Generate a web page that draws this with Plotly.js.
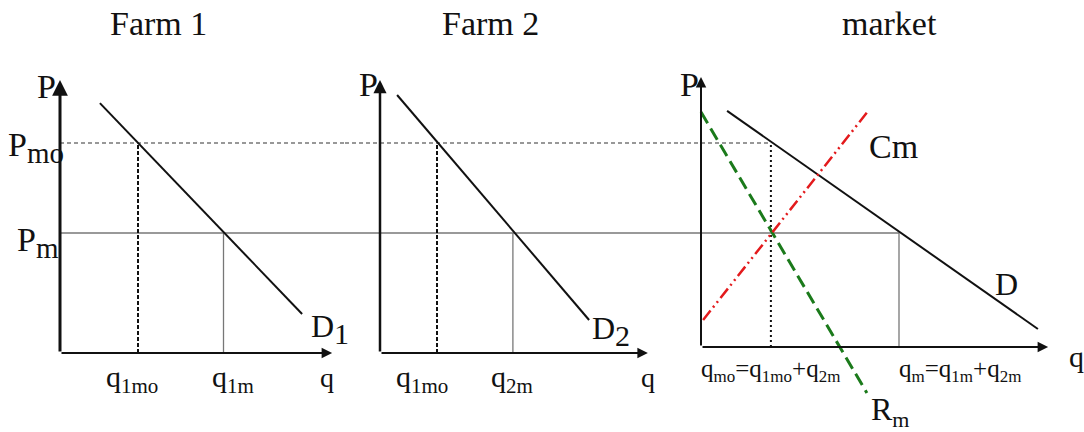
<!DOCTYPE html>
<html>
<head>
<meta charset="utf-8">
<script src="https://cdn.plot.ly/plotly-3.0.1.min.js"></script>
<style>html,body{margin:0;padding:0;background:#fff}</style>
</head>
<body>
<div id="chart" style="width:1084px;height:432px"></div>
<script>
// Two farms + market: monopoly price Pmo vs competitive price Pm
const FONT = 'Liberation Serif, Times New Roman, serif';

const PANELS = ['Farm 1', 'Farm 2', 'market'];
const P_LEVELS = [7, 4];                 // Pmo, Pm
const BASE = [0, 0, 0.2];                // where each q axis sits
const AXIS_TOP = [9.1, 9.1, 9.2];
const AXIS_RIGHT = [9.07, 8.93, 11.57];

// demand curves (end points)
const d1Q = [1.33, 8.07], d1P = [8.33, 1.3];
const d2Q = [0.57, 6.97], d2P = [8.6, 1.1];
const dQ = [0.87, 11.23], dP = [8.07, 0.8];
// marginal revenue / marginal cost on the market
const rmQ = [0, 5.53], rmP = [8.03, -1.33];
const cmQ = [0.07, 5.6], cmP = [1.1, 8.1];
// quantities at Pmo and at Pm, per panel
const Q_MO = [2.6, 1.9, 2.33];
const Q_M = [5.45, 4.43, 6.6];

const XR = [[-2, 9.5], [-1.1667, 10], [-0.7, 12.7667]];
const DOM = [[0, 345 / 1084], [345 / 1084, 680 / 1084], [680 / 1084, 1]];
const XA = ['x', 'x2', 'x3'];

const sub = (s, px) => '<sub><span style="font-size:' + px + 'px">' + s + '</span></sub>';

const traces = [];
const line = (xa, x, y, color, width, dash) => traces.push({
  x, y, xaxis: xa, yaxis: 'y', mode: 'lines', type: 'scatter', hoverinfo: 'skip',
  line: { color, width, dash: dash || 'solid' }
});

// horizontal price lines running across the three panels
for (let i = 0; i < 3; i++) {
  const endMo = i < 2 ? XR[i][1] : Q_MO[2];
  const endM = i < 2 ? XR[i][1] : Q_M[2];
  const start = i === 0 ? 0 : XR[i][0];
  line(XA[i], [start, endMo], [P_LEVELS[0], P_LEVELS[0]], '#333', 1.2, '4px,3px');
  line(XA[i], [start, endM], [P_LEVELS[1], P_LEVELS[1]], '#777', 1.6);
}
// vertical drops
for (let i = 0; i < 3; i++) {
  line(XA[i], [Q_MO[i], Q_MO[i]], [BASE[i], P_LEVELS[0]], '#111', 2, i < 2 ? '4px,2px' : '2px,3px');
  line(XA[i], [Q_M[i], Q_M[i]], [BASE[i], P_LEVELS[1]], '#777', 1.3);
}
line('x', d1Q, d1P, '#111', 2);
line('x2', d2Q, d2P, '#111', 2);
line('x3', dQ, dP, '#111', 2);
line('x3', rmQ, rmP, '#1b7a1b', 3, '13px,6px');
line('x3', cmQ, cmP, '#e31a1c', 2.5, '12px,4px,2px,4px,2px,4px');

const ann = [];
const txt = (xa, x, y, text, size, extra) => ann.push(Object.assign({
  xref: xa, yref: 'y', x, y, text, showarrow: false,
  font: { family: FONT, size, color: '#111' }
}, extra || {}));
const arrow = (xa, x, y, ax, ay, w) => ann.push({
  xref: xa, yref: 'y', axref: xa, ayref: 'y', x, y, ax, ay, text: '',
  showarrow: true, arrowhead: 2, arrowsize: 1.05, arrowwidth: w, arrowcolor: '#111', standoff: 0
});

const YW = [3, 2.5, 2];
for (let i = 0; i < 3; i++) {
  arrow(XA[i], 0, AXIS_TOP[i], 0, BASE[i], YW[i]);
  arrow(XA[i], AXIS_RIGHT[i], BASE[i], 0, BASE[i], 2);
}

// titles
txt('x', 3.27, 11.0, PANELS[0], 34);
txt('x2', 3.67, 11.0, PANELS[1], 34);
txt('x3', 6.27, 11.0, PANELS[2], 34);

// panel 1
txt('x', -0.45, 8.9, 'P', 34);
txt('x', 0.2, P_LEVELS[0] - 0.15, 'P' + sub('mo', 29), 34, { xanchor: 'right' });
txt('x', 0.02, P_LEVELS[1] - 0.3, 'P' + sub('m', 29), 34, { xanchor: 'right' });
txt('x', 9.0, 0.8, 'D' + sub('1', 30), 32);
txt('x', 2.4, -0.85, 'q' + sub('1mo', 21), 30);
txt('x', 5.77, -0.85, 'q' + sub('1m', 21), 30);
txt('x', 8.9, -0.8, 'q', 28);

// panel 2
txt('x2', -0.4, 8.95, 'P', 34);
txt('x2', 7.7, 0.75, 'D' + sub('2', 30), 32);
txt('x2', 1.4, -0.85, 'q' + sub('1mo', 21), 30);
txt('x2', 4.4, -0.85, 'q' + sub('2m', 21), 30);
txt('x2', 8.93, -0.8, 'q', 28);

// market
txt('x3', -0.4, 8.95, 'P', 34);
txt('x3', 6.4, 6.87, 'Cm', 34);
txt('x3', 10.17, 2.3, 'D', 32);
txt('x3', 6.3, -1.95, 'R' + sub('m', 22), 32);
txt('x3', 12.5, -0.1, 'q', 30);
txt('x3', 2.33, -0.57, 'q' + sub('mo', 17) + '=q' + sub('1mo', 17) + '+q' + sub('2m', 17), 25);
txt('x3', 8.63, -0.57, 'q' + sub('m', 17) + '=q' + sub('1m', 17) + '+q' + sub('2m', 17), 25);

const hidden = { showgrid: false, zeroline: false, showticklabels: false, showline: false, ticks: '', fixedrange: true };
const layout = {
  width: 1084, height: 432, margin: { l: 0, r: 0, t: 0, b: 0 },
  paper_bgcolor: '#fff', plot_bgcolor: '#fff', showlegend: false,
  yaxis: Object.assign({ range: [-79 / 30, 353 / 30], domain: [0, 1] }, hidden),
  annotations: ann
};
XA.forEach((a, i) => {
  const key = i === 0 ? 'xaxis' : 'xaxis' + (i + 1);
  layout[key] = Object.assign({ range: XR[i], domain: DOM[i], anchor: 'y' }, hidden);
});

Plotly.newPlot('chart', traces, layout, { displayModeBar: false, staticPlot: true });
</script>
</body>
</html>
